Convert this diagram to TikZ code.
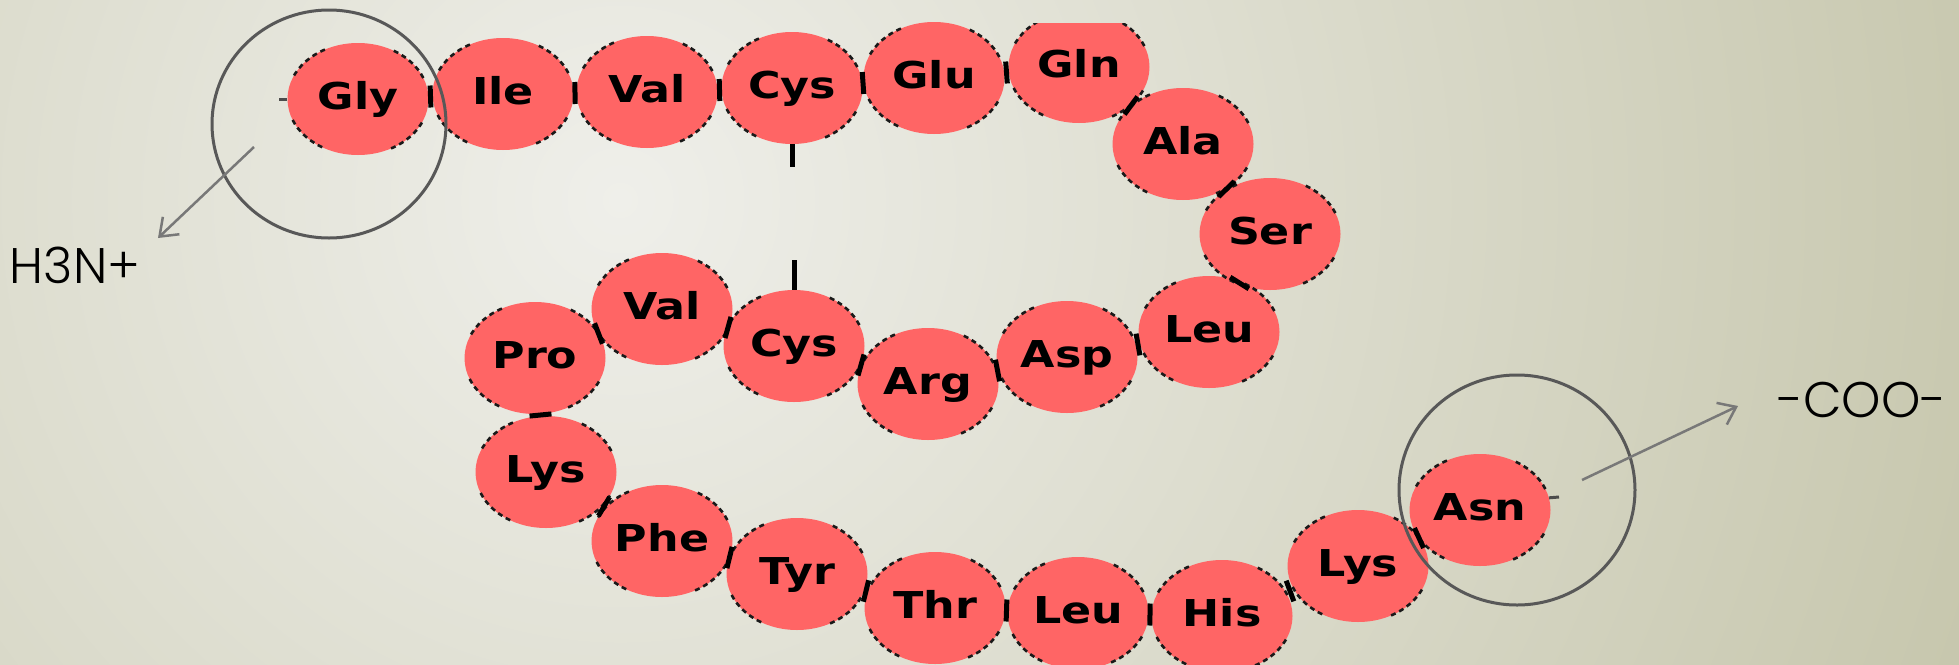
\documentclass[tikz,border=0pt]{standalone}
\usepackage{fontspec}
\usepackage{graphicx}
\usetikzlibrary{shapes.geometric,arrows.meta}

\newfontfamily\resfont{DejaVu Sans}
\IfFontExistsTF{Poppins Light}{\newfontfamily\tagfont{Poppins Light}}{\newfontfamily\tagfont{Poppins}}

\definecolor{resfill}{HTML}{FF6565}
\definecolor{bgin}{HTML}{EFEFEA}
\definecolor{bgout}{HTML}{C6C6AC}
\definecolor{ringgray}{HTML}{585858}
\definecolor{pointergray}{HTML}{787878}

% residue labels are set a little wider than the font
\newcommand\aalabel[1]{\scalebox{1.2}[1]{#1}}

\begin{document}
\begin{tikzpicture}[x=1pt,y=-1pt,
  res/.style={ellipse, fill=resfill, minimum width=141pt, minimum height=112pt,
    inner sep=0pt, text=black,
    font=\resfont\bfseries\fontsize{37pt}{40pt}\selectfont,
    text height=27pt, text depth=6pt},
  rim/.style={draw=black!90, line width=2.6pt, dash pattern=on 5pt off 4pt},
  bondbar/.style={fill=black, minimum width=5pt, minimum height=22pt, inner sep=0pt},
  ssbond/.style={draw=black, line width=5pt},
  endtick/.style={draw=black!70, line width=3pt},
  ring/.style={ellipse, draw=ringgray, line width=3pt, inner sep=0pt},
  pointer/.style={draw=pointergray, line width=2.5pt,
    -{Straight Barb[length=16pt,width=24pt]}},
  tag/.style={font=\tagfont\fontsize{50pt}{56pt}\selectfont, text=black, inner sep=0pt}
]

% page and background
\useasboundingbox (0,0) rectangle (1959,664);
\begin{scope}
  \clip (0,0) rectangle (1959,664);
  \fill[bgout] (0,0) rectangle (1959,664);
  \shade[inner color=bgin, outer color=bgout] (620,200) circle (1450pt);
\end{scope}

% peptide chain, N-terminus at Gly
\node[res] (gly)  at (358,99)  {\aalabel{Gly}};
\node[res] (ile)  at (503,94)  {\aalabel{Ile}};
\node[res] (val1) at (647,92)  {\aalabel{Val}};
\node[res] (cys1) at (792,88)  {\aalabel{Cys}};
\node[res] (glu)  at (934,78)  {\aalabel{Glu}};
\begin{scope}
  \clip (0,23) rectangle (1959,664);
  \node[res] (gln) at (1079,67) {\aalabel{Gln}};
\end{scope}
\node[res] (ala)  at (1183,144) {\aalabel{Ala}};
\node[res] (ser)  at (1270,234) {\aalabel{Ser}};
\node[res] (leu1) at (1209,332) {\aalabel{Leu}};
\node[res] (asp)  at (1067,357) {\aalabel{Asp}};
\node[res] (arg)  at (928,384)  {\aalabel{Arg}};
\node[res] (cys2) at (794,346)  {\aalabel{Cys}};
\node[res] (val2) at (662,309)  {\aalabel{Val}};
\node[res] (pro)  at (535,358)  {\aalabel{Pro}};
\node[res] (lys1) at (546,472)  {\aalabel{Lys}};
\node[res] (phe)  at (662,541)  {\aalabel{Phe}};
\node[res] (tyr)  at (797,574)  {\aalabel{Tyr}};
\node[res] (thr)  at (935,608)  {\aalabel{Thr}};
\node[res] (leu2) at (1078,613) {\aalabel{Leu}};
\node[res] (his)  at (1222,616) {\aalabel{His}};
\node[res] (lys2) at (1358,566) {\aalabel{Lys}};
\node[res] (asn)  at (1480,510) {\aalabel{Asn}};

% stepped outlines on the diagonal flanks of each residue
\begin{scope}
  \clip (0,23) rectangle (1959,664);
  \foreach \n in {gly,ile,val1,cys1,glu,gln,ala,ser,leu1,asp,arg,cys2,val2,pro,lys1,phe,tyr,thr,leu2,his,lys2,asn}{
    \foreach \s in {22,118,202,298}{
      \draw[rim] (\n.center) ++(\s:70.5pt and 56pt)
        arc[start angle=\s, delta angle=40, x radius=70.5pt, y radius=56pt];
    }
  }
\end{scope}

% peptide bonds between neighbouring residues
\foreach \a/\b in {gly/ile,ile/val1,val1/cys1,cys1/glu,glu/gln,gln/ala,ala/ser,ser/leu1,
  leu1/asp,asp/arg,arg/cys2,cys2/val2,val2/pro,pro/lys1,lys1/phe,phe/tyr,tyr/thr,
  thr/leu2,leu2/his,his/lys2,lys2/asn}{
  \path (\a.center) -- node[bondbar, sloped] {} (\b.center);
}

% chain ends
\coordinate (nstub) at (279,99);
\coordinate (cstub) at (1559,497);
\draw[endtick] (gly.west) -- (nstub);
\draw[endtick] (asn.10) -- (cstub);

% disulfide bridge stubs
\coordinate (sstop) at (792,167);
\coordinate (ssbot) at (794,260);
\draw[ssbond] (cys1.south) -- (sstop);
\draw[ssbond] (cys2.north) -- (ssbot);

% terminal markers
\node[ring, minimum width=234pt, minimum height=228pt] (nring) at (329,124) {};
\node[ring, minimum width=236pt, minimum height=230pt] (cring) at (1517,490) {};

\node[tag] (h3n) at (75,265)  {H3N+};
\node[tag] (coo) at (1862,400) {-COO-};

\coordinate (nfrom) at (254,147);
\coordinate (nto)   at (158,238);
\coordinate (cfrom) at (1582,480);
\coordinate (cto)   at (1738,406);
\draw[pointer] (nfrom) -- (nto);
\draw[pointer] (cfrom) -- (cto);

\end{tikzpicture}
\end{document}
